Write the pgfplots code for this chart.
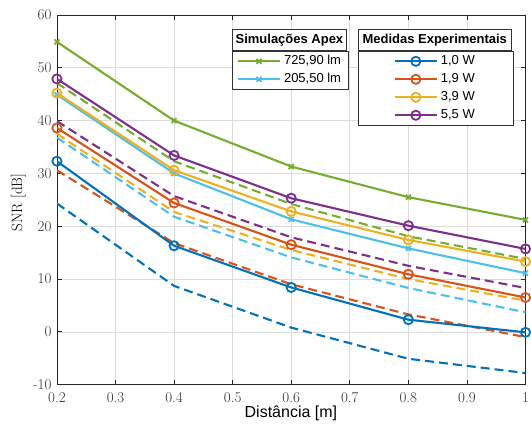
\documentclass[border=0pt]{standalone}
\usepackage{pgfplots}
\pgfplotsset{compat=1.18}
\usepackage{fontspec}
\newfontfamily\arial{Liberation Sans}
\definecolor{mblue}{rgb}{0,0.447,0.741}
\definecolor{morange}{rgb}{0.85,0.325,0.098}
\definecolor{myellow}{rgb}{0.929,0.694,0.125}
\definecolor{mpurple}{rgb}{0.494,0.184,0.556}
\definecolor{mgreen}{rgb}{0.466,0.674,0.188}
\definecolor{mcyan}{rgb}{0.301,0.745,0.933}
\pgfplotsset{
  base/.style={
    scale only axis, width=469pt, height=370pt,
    xmin=0.2, xmax=1, ymin=-10, ymax=60,
  },
  sol/.style={line width=2.1pt, solid},
  dsh/.style={line width=2.1pt, dash pattern=on 9pt off 5pt},
  lgd/.style={
    legend image code/.code={\draw[mark repeat=2,mark phase=2] plot coordinates {(0pt,0pt) (21pt,0pt) (42pt,0pt)};},
  },
}
\begin{document}
\begin{tikzpicture}
\begin{axis}[base,
  axis line style={black!85, line width=0.8pt},
  grid=major, major grid style={black!14, line width=0.6pt},
  major tick length=5pt, tick style={black!85, line width=0.8pt},
  xtick={0.2,0.3,0.4,0.5,0.6,0.7,0.8,0.9,1},
  xticklabels={0.2,0.3,0.4,0.5,0.6,0.7,0.8,0.9,1},
  ytick={-10,0,10,20,30,40,50,60},
  yticklabels={-10,0,10,20,30,40,50,60},
  tick label style={font=\fontsize{15}{17}\selectfont, text=black!80},
  xticklabel style={yshift=-4pt},
  yticklabel style={xshift=-2pt},
  xlabel={\arial\fontsize{16}{18}\selectfont Distância [m]},
  xlabel style={at={(axis description cs:0.4993,-0.0778)}, anchor=center},
  ylabel={\fontsize{15}{17}\selectfont SNR [dB]},
  ylabel style={at={(axis description cs:-0.0825,0.493)}, anchor=center},
  lgd,
  legend style={at={(axis description cs:0.3738,0.9022)}, anchor=north west,
    draw=black!80, line width=0.8pt, fill=white,
    font=\arial\fontsize{13}{15}\selectfont,
    inner xsep=4.5pt, inner ysep=0.8pt, row sep=0pt,
    nodes={inner xsep=3pt, inner ysep=2.1pt, text height=10.3pt, text depth=3.5pt}},
  legend cell align=left,
]
% dashed series (not in legend)
\addplot[dsh, mgreen, forget plot] coordinates {(0.2,47.1)(0.4,32.3)(0.6,24.2)(0.8,18.1)(1,13.8)};
\addplot[dsh, mcyan, forget plot] coordinates {(0.2,36.8)(0.4,21.8)(0.6,14.1)(0.8,8.3)(1,3.7)};
\addplot[dsh, mblue, forget plot] coordinates {(0.2,24.3)(0.4,8.7)(0.6,0.8)(0.8,-5.1)(1,-7.8)};
\addplot[dsh, morange, forget plot] coordinates {(0.2,30.6)(0.4,16.8)(0.6,9.0)(0.8,3.3)(1,-1.0)};
\addplot[dsh, myellow, forget plot] coordinates {(0.2,37.5)(0.4,22.7)(0.6,15.5)(0.8,10.0)(1,5.9)};
\addplot[dsh, mpurple, forget plot] coordinates {(0.2,39.9)(0.4,25.7)(0.6,17.9)(0.8,12.5)(1,8.3)};
% simulations
\addplot[sol, mgreen, mark=x, mark size=3.5pt, mark options={solid, line width=1.8pt}] coordinates {(0.2,54.9)(0.4,40.0)(0.6,31.3)(0.8,25.5)(1,21.2)};
\addlegendentry{725,90 lm}
\addplot[sol, mcyan, mark=x, mark size=3.5pt, mark options={solid, line width=1.8pt}] coordinates {(0.2,44.9)(0.4,30.0)(0.6,21.3)(0.8,15.8)(1,11.1)};
\addlegendentry{205,50 lm}
\end{axis}
\begin{axis}[base, hide axis, lgd,
  legend style={at={(axis description cs:0.6424,0.9022)}, anchor=north west,
    draw=black!80, line width=0.8pt, fill=white,
    font=\arial\fontsize{13}{15}\selectfont,
    inner xsep=35.5pt, inner ysep=0.8pt, row sep=0pt,
    nodes={inner xsep=3pt, inner ysep=2.1pt, text height=10.3pt, text depth=3.5pt}},
  legend cell align=left,
]
\addplot[sol, mblue, mark=o, mark size=4.6pt, mark options={solid, line width=1.8pt}] coordinates {(0.2,32.3)(0.4,16.3)(0.6,8.4)(0.8,2.3)(1,-0.1)};
\addlegendentry{1,0 W}
\addplot[sol, morange, mark=o, mark size=4.6pt, mark options={solid, line width=1.8pt}] coordinates {(0.2,38.6)(0.4,24.4)(0.6,16.5)(0.8,10.9)(1,6.5)};
\addlegendentry{1,9 W}
\addplot[sol, myellow, mark=o, mark size=4.6pt, mark options={solid, line width=1.8pt}] coordinates {(0.2,45.2)(0.4,30.6)(0.6,22.8)(0.8,17.4)(1,13.3)};
\addlegendentry{3,9 W}
\addplot[sol, mpurple, mark=o, mark size=4.6pt, mark options={solid, line width=1.8pt}] coordinates {(0.2,47.9)(0.4,33.4)(0.6,25.3)(0.8,20.1)(1,15.7)};
\addlegendentry{5,5 W}
\node[draw=black!80, line width=0.8pt, fill=white, anchor=south west, minimum width=114pt, minimum height=21pt, inner sep=0pt,
  font=\arial\bfseries\fontsize{13}{15}\selectfont] at (axis description cs:0.3738,0.9022) {Simulações Apex};
\node[draw=black!80, line width=0.8pt, fill=white, anchor=south west, minimum width=153pt, minimum height=21pt, inner sep=0pt,
  font=\arial\bfseries\fontsize{13}{15}\selectfont] at (axis description cs:0.6424,0.9022) {Medidas Experimentais};
\end{axis}
\pgfresetboundingbox
\path[use as bounding box] ([shift={(-57pt,-48pt)}]current axis.south west) rectangle ([shift={(5.5pt,15pt)}]current axis.north east);
\end{tikzpicture}
\end{document}
